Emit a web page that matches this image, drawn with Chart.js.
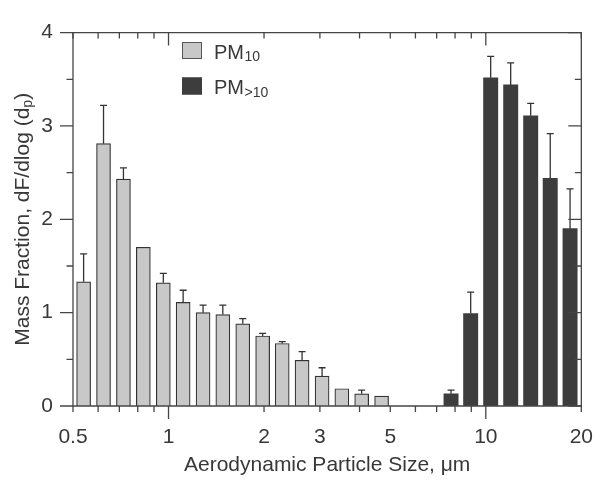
<!DOCTYPE html>
<html>
<head>
<meta charset="utf-8">
<script src="https://cdn.jsdelivr.net/npm/chart.js@4/dist/chart.umd.min.js"></script>
<style>
  html, body { margin: 0; padding: 0; background: #ffffff; }
  #wrap { width: 612px; height: 484px; }
</style>
</head>
<body>
<div id="wrap"><canvas id="c" width="612" height="484"></canvas></div>
<script>
// ---- data ----
const pm10Sizes  = [0.54, 0.624, 0.721, 0.833, 0.963, 1.112, 1.285, 1.483, 1.714, 1.98, 2.282, 2.636, 3.048, 3.518, 4.062, 4.694];
const pm10Values = [1.33, 2.81, 2.43, 1.70, 1.32, 1.11, 1.00, 0.98, 0.88, 0.75, 0.67, 0.49, 0.32, 0.185, 0.13, 0.105];
const pm10Errors = [0.30, 0.41, 0.12, 0.0, 0.10, 0.13, 0.08, 0.10, 0.055, 0.027, 0.02, 0.093, 0.09, 0.005, 0.04, 0.01];

const pmCoarseSizes  = [7.77, 8.96, 10.36, 11.98, 13.85, 15.96, 18.43];
const pmCoarseValues = [0.13, 0.99, 3.515, 3.44, 3.108, 2.438, 1.90];
const pmCoarseErrors = [0.04, 0.23, 0.23, 0.235, 0.133, 0.48, 0.425];

const xTickLabels = [0.5, 1, 2, 3, 5, 10, 20];
const xTickMarks  = [0.5, 0.6, 0.7, 0.8, 0.9, 1, 2, 3, 4, 5, 6, 7, 8, 9, 10, 20];
const xMajorMarks = [1, 10];
const yTickLabels = [0, 1, 2, 3, 4];
const yTickMarks  = [0, 0.5, 1, 1.5, 2, 2.5, 3, 3.5, 4];

const legendItems = [
  { main: 'PM', sub: '10' },
  { main: 'PM', sub: '>10' }
];
const xTitle = 'Aerodynamic Particle Size, \u03bcm';
const yTitleMain = 'Mass Fraction, dF/dlog (d';
const yTitleSub = 'p';
const yTitleEnd = ')';

// ---- styles ----
const FONT = '"Liberation Sans", Arial, Helvetica, sans-serif';
const TEXT = '#383838';
const AXIS = '#454545';
const LIGHT = '#c8c8c8';
const DARK = '#3d3d3d';

function pts(xs, ys) { return xs.map((x, i) => ({ x: x, y: ys[i] })); }

const errorBars = {
  id: 'errorBars',
  afterDatasetsDraw(chart) {
    const ctx = chart.ctx, ys = chart.scales.y;
    const errs = [pm10Errors, pmCoarseErrors];
    const vals = [pm10Values, pmCoarseValues];
    ctx.save();
    ctx.strokeStyle = '#333333';
    ctx.lineWidth = 1.3;
    chart.data.datasets.forEach((ds, di) => {
      const meta = chart.getDatasetMeta(di);
      meta.data.forEach((el, i) => {
        const e = errs[di][i];
        if (!e || e < 0.015) return;
        const yt = ys.getPixelForValue(vals[di][i] + e);
        ctx.beginPath();
        ctx.moveTo(el.x, el.y);
        ctx.lineTo(el.x, yt);
        ctx.moveTo(el.x - 3.5, yt);
        ctx.lineTo(el.x + 3.5, yt);
        ctx.stroke();
      });
    });
    ctx.restore();
  }
};

const frame = {
  id: 'frame',
  afterDraw(chart) {
    const ctx = chart.ctx, a = chart.chartArea;
    const xs = chart.scales.x, ys = chart.scales.y;
    ctx.save();
    ctx.strokeStyle = AXIS;
    ctx.lineWidth = 1.3;
    ctx.beginPath();
    ctx.rect(a.left, a.top, a.right - a.left, a.bottom - a.top);
    ctx.stroke();
    ctx.beginPath();
    xTickMarks.forEach(v => {
      const px = xs.getPixelForValue(v);
      const len = xMajorMarks.includes(v) ? 13 : 6;
      ctx.moveTo(px, a.bottom); ctx.lineTo(px, a.bottom + len);
      ctx.moveTo(px, a.top); ctx.lineTo(px, a.top + len);
    });
    yTickMarks.forEach(v => {
      const py = ys.getPixelForValue(v);
      const len = Number.isInteger(v) ? 13 : 6.5;
      ctx.moveTo(a.left, py); ctx.lineTo(a.left - len, py);
      ctx.moveTo(a.right, py); ctx.lineTo(a.right - len, py);
    });
    ctx.stroke();

    // axis titles
    ctx.fillStyle = TEXT;
    ctx.textBaseline = 'alphabetic';
    ctx.font = '21px ' + FONT;
    ctx.textAlign = 'center';
    ctx.fillText(xTitle, (a.left + a.right) / 2, 471);

    // y title with subscript
    ctx.save();
    ctx.translate(29, (a.top + a.bottom) / 2);
    ctx.rotate(-Math.PI / 2);
    ctx.font = '21px ' + FONT;
    const w1 = ctx.measureText(yTitleMain).width;
    const w3 = ctx.measureText(yTitleEnd).width;
    ctx.font = '14px ' + FONT;
    const w2 = ctx.measureText(yTitleSub).width;
    const total = w1 + w2 + w3;
    let x0 = -total / 2;
    ctx.textAlign = 'left';
    ctx.font = '21px ' + FONT;
    ctx.fillText(yTitleMain, x0, 0);
    ctx.font = '14px ' + FONT;
    ctx.fillText(yTitleSub, x0 + w1, 3);
    ctx.font = '21px ' + FONT;
    ctx.fillText(yTitleEnd, x0 + w1 + w2, 0);
    ctx.restore();

    // legend
    const colors = [LIGHT, DARK];
    const rows = [42, 77.5];
    legendItems.forEach((it, i) => {
      const top = rows[i];
      ctx.fillStyle = colors[i];
      ctx.fillRect(182, top, 20, 17);
      ctx.strokeStyle = i === 0 ? '#555555' : DARK;
      ctx.lineWidth = 1;
      ctx.strokeRect(182.5, top + 0.5, 19, 16);
      ctx.fillStyle = TEXT;
      ctx.textAlign = 'left';
      ctx.font = '20px ' + FONT;
      ctx.fillText(it.main, 214, top + 16.5);
      const mw = ctx.measureText(it.main).width;
      ctx.font = '14px ' + FONT;
      ctx.fillText(it.sub, 214 + mw + 0.5, top + 19);
    });
    ctx.restore();
  }
};

new Chart(document.getElementById('c'), {
  type: 'bar',
  data: {
    datasets: [
      {
        label: 'PM10',
        data: pts(pm10Sizes, pm10Values),
        backgroundColor: LIGHT,
        borderColor: '#333333',
        borderWidth: 1.2,
        barThickness: 14,
        grouped: false
      },
      {
        label: 'PM>10',
        data: pts(pmCoarseSizes, pmCoarseValues),
        backgroundColor: DARK,
        borderColor: DARK,
        borderWidth: 0,
        barThickness: 14.3,
        grouped: false
      }
    ]
  },
  options: {
    responsive: false,
    animation: false,
    devicePixelRatio: 1,
    layout: { padding: { top: 15, right: 19, left: 0, bottom: 0 } },
    plugins: { legend: { display: false }, tooltip: { enabled: false } },
    scales: {
      x: {
        type: 'logarithmic',
        min: 0.5,
        max: 20,
        offset: false,
        grid: { display: false, drawTicks: false },
        border: { display: false },
        afterBuildTicks: s => { s.ticks = xTickLabels.map(v => ({ value: v })); },
        afterFit: s => { s.height = 78; },
        ticks: {
          autoSkip: false,
          maxRotation: 0,
          padding: 19,
          color: TEXT,
          font: { family: FONT, size: 21 },
          callback: v => String(v)
        }
      },
      y: {
        type: 'linear',
        min: 0,
        max: 4,
        grid: { display: false, drawTicks: false },
        border: { display: false },
        afterBuildTicks: s => { s.ticks = yTickLabels.map(v => ({ value: v })); },
        afterFit: s => { s.width = 73; },
        ticks: {
          padding: 20,
          color: TEXT,
          font: { family: FONT, size: 21 },
          callback: v => String(v)
        }
      }
    }
  },
  plugins: [errorBars, frame]
});
</script>
</body>
</html>
